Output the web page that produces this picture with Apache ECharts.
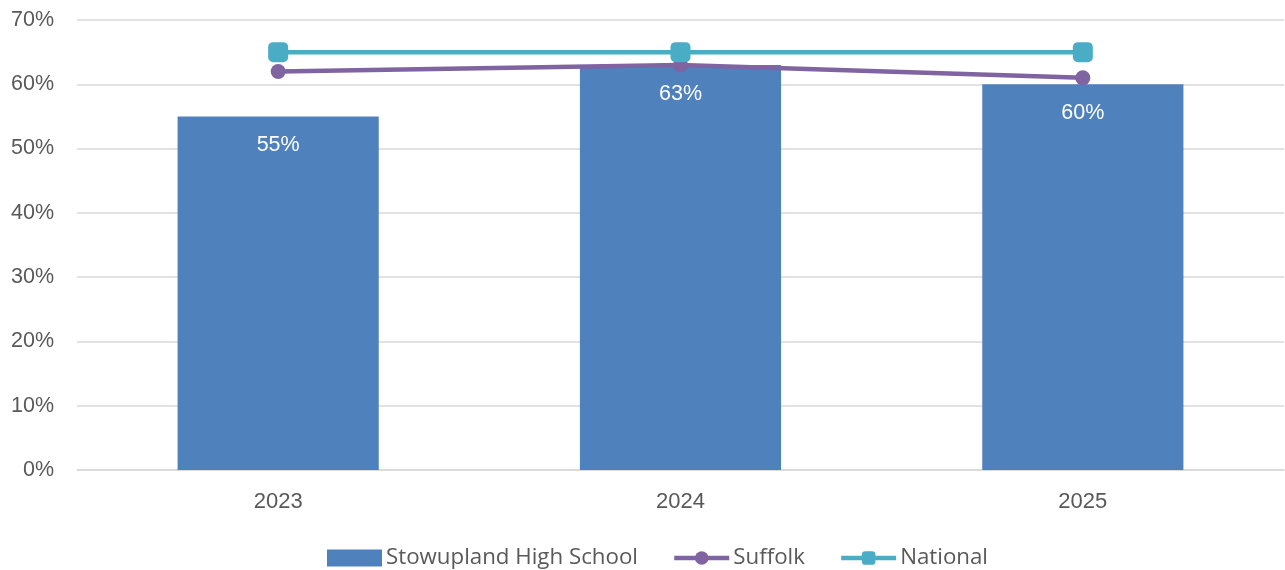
<!DOCTYPE html>
<html><head><meta charset="utf-8">
<script src="https://cdn.jsdelivr.net/npm/echarts@6/dist/echarts.min.js"></script>
<style>html,body{margin:0;padding:0;background:#fff}#c{width:1285px;height:570px}</style>
</head><body><div id="c"></div>
<script>
const categories = ['2023', '2024', '2025'];
const school = [55, 63, 60];
const suffolk = [62, 63, 61];
const national = [65, 65, 65];
const yTicks = [0, 10, 20, 30, 40, 50, 60, 70];

const chart = echarts.init(document.getElementById('c'));
chart.setOption({
  animation: false,
  textStyle: { fontFamily: 'Liberation Sans, Arial, sans-serif' },
  grid: { left: 77, right: 1, top: 20, bottom: 100, containLabel: false },
  legend: {
    top: 539, left: 322, itemGap: 34, itemWidth: 55, itemHeight: 17,
    lineStyle: { width: 4.5 },
    textStyle: { fontSize: 22.3, lineHeight: 28, color: '#595959', fontFamily: 'Open Sans, sans-serif', padding: [0, 0, 0, -1] },
    data: [
      { name: 'Stowupland High School', icon: 'rect' },
      { name: 'Suffolk' },
      { name: 'National' }
    ]
  },
  xAxis: {
    type: 'category', data: categories,
    axisLine: { lineStyle: { color: '#d9d9d9', width: 1.5 } },
    axisTick: { show: false },
    axisLabel: { fontSize: 22, color: '#595959', margin: 21 }
  },
  yAxis: {
    type: 'value', min: yTicks[0], max: yTicks[yTicks.length - 1], interval: 10,
    axisLine: { show: false }, axisTick: { show: false },
    splitLine: { lineStyle: { color: '#d9d9d9', width: 1.5 } },
    axisLabel: { fontSize: 21.5, color: '#595959', margin: 23, formatter: v => v + '%' }
  },
  series: [
    {
      name: 'Stowupland High School', type: 'bar', data: school, barWidth: '50%',
      itemStyle: { color: '#4f81bd' },
      label: { show: true, position: 'insideTop', distance: 18, color: '#fff', fontSize: 21.5, formatter: p => p.value + '%' },
      z: 2
    },
    {
      name: 'Suffolk', type: 'line', data: suffolk,
      lineStyle: { color: '#8064a2', width: 4.5 },
      itemStyle: { color: '#8064a2' },
      symbol: 'circle', symbolSize: 15, z: 3
    },
    {
      name: 'National', type: 'line', data: national,
      lineStyle: { color: '#4bacc6', width: 4.5 },
      itemStyle: { color: '#4bacc6', borderRadius: 2 },
      symbol: 'roundRect', symbolSize: 20, z: 4
    }
  ]
});
</script></body></html>
